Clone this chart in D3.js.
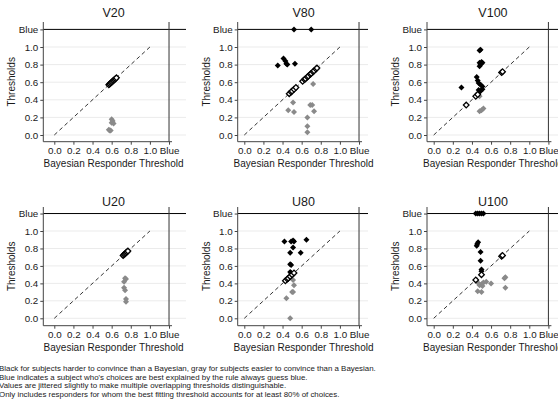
<!DOCTYPE html>
<html>
<head>
<meta charset="utf-8">
<script src="https://cdn.jsdelivr.net/npm/d3@7"></script>
<style>
  body { margin: 0; background: #fff; }
  svg { display: block; font-family: "Liberation Sans", Arial, sans-serif; }
  text { fill: #1a1a1a; }
</style>
</head>
<body>
<div id="container"></div>
<script>
/* CONSTANTS AND GLOBALS */
const width = 558, height = 404;
const BLUE = 1.2; // "Blue" is drawn one step past 1.0

/* DATA */
const panelTitles = ["V20", "V80", "V100", "U20", "U80", "U100"];
const tickValues = [0, 0.2, 0.4, 0.6, 0.8, 1.0, BLUE];
const tickLabels = ["0.0", "0.2", "0.4", "0.6", "0.8", "1.0", "Blue"];

// [bayesian threshold, subject threshold] - "Blue" = always guess blue
const v20Harder = [];
const v20Equal = [[0.57, 0.57], [0.58, 0.58], [0.59, 0.59], [0.60, 0.60], [0.61, 0.61], [0.62, 0.62], [0.63, 0.63], [0.64, 0.64], [0.65, 0.65]];
const v20Easier = [[0.60, 0.18], [0.61, 0.16], [0.60, 0.14], [0.62, 0.13], [0.57, 0.06], [0.58, 0.05], [0.59, 0.05]];

const v80Harder = [[0.52, "Blue"], [0.70, "Blue"], [0.35, 0.79], [0.41, 0.87], [0.43, 0.84], [0.44, 0.81], [0.45, 0.80], [0.53, 0.81]];
const v80Equal = [[0.47, 0.47], [0.49, 0.49], [0.50, 0.50], [0.52, 0.52], [0.54, 0.54], [0.61, 0.61], [0.63, 0.63], [0.64, 0.64], [0.66, 0.66], [0.67, 0.67], [0.69, 0.69], [0.70, 0.70], [0.72, 0.72], [0.73, 0.73], [0.75, 0.75], [0.76, 0.76]];
const v80Easier = [[0.72, 0.58], [0.51, 0.37], [0.46, 0.28], [0.52, 0.26], [0.69, 0.34], [0.71, 0.34], [0.73, 0.27], [0.66, 0.20], [0.66, 0.10], [0.66, 0.03]];

const v100Harder = [[0.48, 0.96], [0.49, 0.97], [0.48, 0.82], [0.50, 0.83], [0.49, 0.80], [0.48, 0.78], [0.51, 0.82], [0.29, 0.54], [0.45, 0.66], [0.46, 0.62], [0.47, 0.59], [0.49, 0.57], [0.51, 0.55], [0.47, 0.51], [0.49, 0.50], [0.51, 0.52], [0.47, 0.48]];
const v100Equal = [[0.34, 0.34], [0.44, 0.44], [0.46, 0.46], [0.71, 0.71], [0.72, 0.72]];
const v100Easier = [[0.48, 0.27], [0.50, 0.28], [0.52, 0.30], [0.48, 0.44]];

const u20Harder = [];
const u20Equal = [[0.72, 0.72], [0.73, 0.73], [0.74, 0.74], [0.75, 0.75], [0.76, 0.76], [0.77, 0.77]];
const u20Easier = [[0.74, 0.46], [0.75, 0.45], [0.73, 0.42], [0.73, 0.35], [0.74, 0.32], [0.75, 0.22], [0.75, 0.19]];

const u80Harder = [[0.42, 0.88], [0.49, 0.88], [0.51, 0.89], [0.52, 0.88], [0.65, 0.90], [0.51, 0.81], [0.48, 0.75], [0.59, 0.75], [0.48, 0.62], [0.49, 0.61], [0.48, 0.53], [0.49, 0.52]];
const u80Equal = [[0.43, 0.43], [0.45, 0.45], [0.46, 0.46], [0.48, 0.48], [0.50, 0.50], [0.52, 0.52]];
const u80Easier = [[0.51, 0.44], [0.52, 0.38], [0.50, 0.30], [0.51, 0.30], [0.44, 0.23], [0.48, 0.00]];

const u100Harder = [[0.44, "Blue"], [0.46, "Blue"], [0.48, "Blue"], [0.50, "Blue"], [0.52, "Blue"], [0.455, 0.85], [0.465, 0.87], [0.45, 0.83], [0.49, 0.76], [0.49, 0.66], [0.50, 0.56], [0.50, 0.54]];
const u100Equal = [[0.44, 0.44], [0.50, 0.50], [0.71, 0.71], [0.72, 0.72]];
const u100Easier = [[0.48, 0.38], [0.50, 0.39], [0.47, 0.40], [0.52, 0.41], [0.55, 0.42], [0.60, 0.40], [0.46, 0.31], [0.50, 0.30], [0.74, 0.46], [0.75, 0.47], [0.75, 0.35], [0.51, 0.37]];

const captionLines = [
  "Black for subjects harder to convince than a Bayesian, gray for subjects easier to convince than a Bayesian.",
  "Blue indicates a subject who's choices are best explained by the rule always guess blue.",
  "Values are jittered slightly to make multiple overlapping thresholds distinguishable.",
  "Only includes responders for whom the best fitting threshold accounts for at least 80% of choices."
];

const panels = [
  { harder: v20Harder, equal: v20Equal, easier: v20Easier },
  { harder: v80Harder, equal: v80Equal, easier: v80Easier },
  { harder: v100Harder, equal: v100Equal, easier: v100Easier },
  { harder: u20Harder, equal: u20Equal, easier: u20Easier },
  { harder: u80Harder, equal: u80Equal, easier: u80Easier },
  { harder: u100Harder, equal: u100Equal, easier: u100Easier }
];

/* LAYOUT (per column / row) */
const cols = [
  { axisX: 43.3, x0: 54.3, right: 186 },
  { axisX: 237.7, x0: 244.3, right: 368 },
  { axisX: 427, x0: 433.7, right: 572 }
];
const rows = [
  { y0: 135, unit: 88, axisY: 141.7, top: 22, titleY: 17 },
  { y0: 318.3, unit: 87.3, axisY: 325.7, top: 207, titleY: 205.5 }
];
const xUnit = 95.6;

const yVal = v => v === "Blue" ? BLUE : v;

/* CREATE SVG ELEMENT */
const svg = d3.select("#container")
  .append("svg")
  .attr("width", width)
  .attr("height", height);

const diamond = d3.symbol().type(d3.symbolSquare);

panels.forEach((p, i) => {
  const c = cols[i % 3], r = rows[Math.floor(i / 3)];

  // SCALES
  const xScale = d3.scaleLinear().domain([0, 1]).range([c.x0, c.x0 + xUnit]);
  const yScale = d3.scaleLinear().domain([0, 1]).range([r.y0, r.y0 - r.unit]);

  const g = svg.append("g");

  // gridlines
  g.selectAll(".grid")
    .data(tickValues.slice(0, 6))
    .join("line")
    .attr("x1", c.axisX).attr("x2", c.right)
    .attr("y1", d => yScale(d)).attr("y2", d => yScale(d))
    .attr("stroke", "#ebebeb")
    .attr("stroke-width", 1);

  // "Blue" reference lines
  g.append("line")
    .attr("x1", c.axisX).attr("x2", c.right)
    .attr("y1", yScale(BLUE)).attr("y2", yScale(BLUE))
    .attr("stroke", "#000").attr("stroke-width", 1);
  g.append("line")
    .attr("x1", xScale(BLUE)).attr("x2", xScale(BLUE))
    .attr("y1", r.top).attr("y2", r.axisY)
    .attr("stroke", "#333").attr("stroke-width", 1);

  // diagonal
  g.append("line")
    .attr("x1", xScale(0)).attr("y1", yScale(0))
    .attr("x2", xScale(1)).attr("y2", yScale(1))
    .attr("stroke", "#000").attr("stroke-width", 0.8)
    .attr("stroke-dasharray", "4,3");

  // AXES
  const xAxis = d3.axisBottom(xScale)
    .tickValues(tickValues)
    .tickFormat((d, k) => tickLabels[k])
    .tickSize(3).tickPadding(2);
  g.append("g")
    .attr("transform", `translate(0,${r.axisY})`)
    .call(xAxis)
    .call(a => a.select(".domain").remove())
    .call(a => a.selectAll("line").attr("stroke", "#444"))
    .call(a => a.selectAll("text").attr("fill", "#1a1a1a").style("font-size", "9.8px").style("font-family", "Liberation Sans, Arial, sans-serif"));

  const yAxis = d3.axisLeft(yScale)
    .tickValues(tickValues)
    .tickFormat((d, k) => tickLabels[k])
    .tickSize(3).tickPadding(2);
  g.append("g")
    .attr("transform", `translate(${c.axisX},0)`)
    .call(yAxis)
    .call(a => a.select(".domain").remove())
    .call(a => a.selectAll("line").attr("stroke", "#444"))
    .call(a => a.selectAll("text").attr("fill", "#1a1a1a").style("font-size", "9.8px").style("font-family", "Liberation Sans, Arial, sans-serif"));

  // axis lines
  g.append("line")
    .attr("x1", c.axisX).attr("x2", c.axisX)
    .attr("y1", r.top).attr("y2", r.axisY)
    .attr("stroke", "#444");
  g.append("line")
    .attr("x1", c.axisX).attr("x2", xScale(BLUE) + 3)
    .attr("y1", r.axisY).attr("y2", r.axisY)
    .attr("stroke", "#444");

  // POINTS
  g.selectAll(".easier")
    .data(p.easier)
    .join("path")
    .attr("d", diamond.size(18))
    .attr("transform", d => `translate(${xScale(d[0])},${yScale(yVal(d[1]))}) rotate(45)`)
    .attr("fill", "#8a8a8a");

  g.selectAll(".harder")
    .data(p.harder)
    .join("path")
    .attr("d", diamond.size(18))
    .attr("transform", d => `translate(${xScale(d[0])},${yScale(yVal(d[1]))}) rotate(45)`)
    .attr("fill", "#000");

  g.selectAll(".equal")
    .data(p.equal)
    .join("path")
    .attr("d", diamond.size(16))
    .attr("transform", d => `translate(${xScale(d[0])},${yScale(yVal(d[1]))}) rotate(45)`)
    .attr("fill", "#fff")
    .attr("stroke", "#000")
    .attr("stroke-width", 1.3);

  // TITLES
  const cx = c.x0 + 0.62 * xUnit;
  g.append("text")
    .attr("x", cx).attr("y", r.titleY)
    .attr("text-anchor", "middle")
    .style("font-size", "12.5px")
    .text(panelTitles[i]);

  g.append("text")
    .attr("x", cx).attr("y", r.axisY + 25.5)
    .attr("text-anchor", "middle")
    .style("font-size", "10px")
    .text("Bayesian Responder Threshold");

  g.append("text")
    .attr("transform", `translate(${c.axisX - 28},${(r.top + r.axisY) / 2}) rotate(-90)`)
    .attr("text-anchor", "middle")
    .style("font-size", "10px")
    .text("Thresholds");
});

// CAPTION
svg.append("g")
  .selectAll("text")
  .data(captionLines)
  .join("text")
  .attr("x", -1)
  .attr("y", (d, k) => 371 + k * 8.6)
  .style("font-size", "7.9px")
  .attr("fill", "#000")
  .text(d => d);
</script>
</body>
</html>
